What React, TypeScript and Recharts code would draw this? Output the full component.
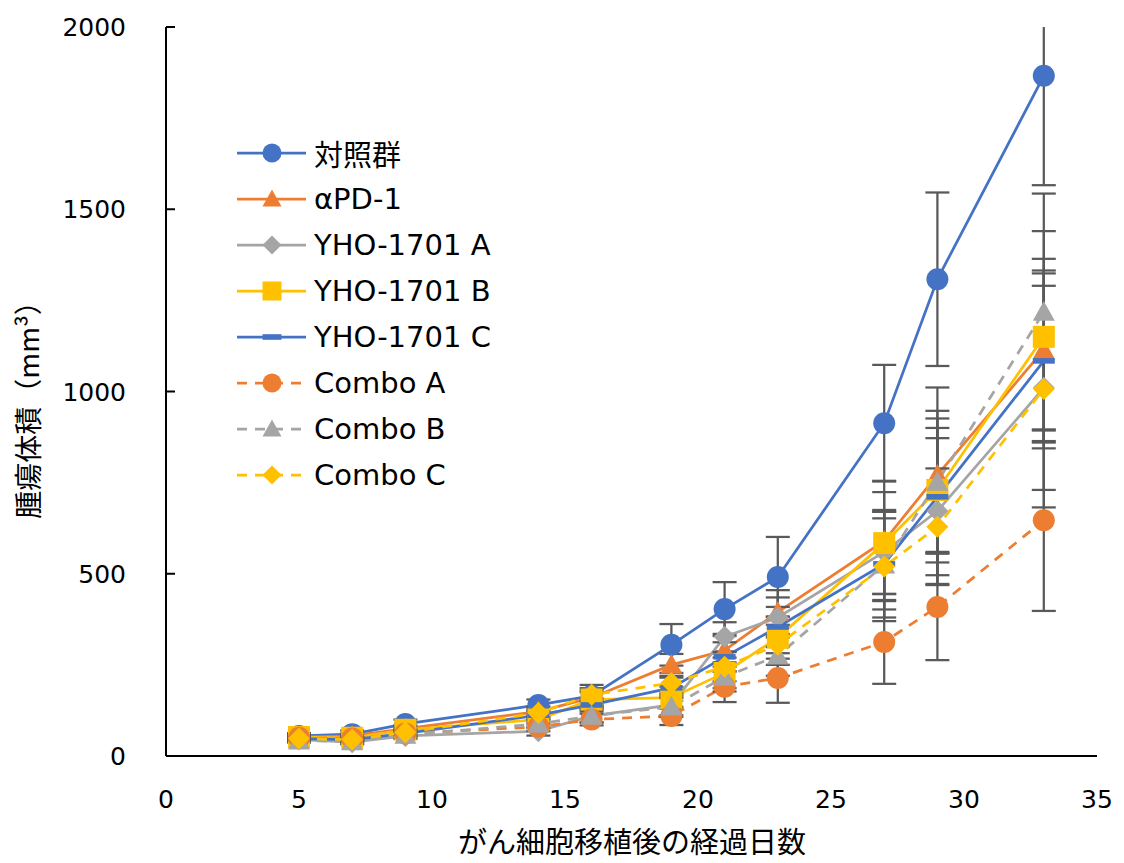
import React from 'react'
import { LineChart, Line, XAxis, YAxis, ErrorBar, Legend, Label } from 'recharts'

// days after tumor implantation
const days = [5, 7, 9, 14, 16, 19, 21, 23, 27, 29, 33]

// mean tumor volume (mm3) per group
const control = [55, 60, 88, 140, 165, 305, 403, 491, 913, 1308, 1866]
const aPD1 = [52, 55, 75, 122, 160, 250, 290, 395, 590, 771, 1114]
const yhoA = [45, 38, 55, 68, 110, 140, 327, 380, 560, 672, 1010]
const yhoB = [52, 50, 72, 100, 155, 160, 228, 325, 584, 730, 1150]
const yhoC = [48, 45, 62, 112, 140, 187, 272, 354, 527, 711, 1084]
const comboA = [50, 48, 62, 80, 100, 110, 190, 214, 313, 409, 647]
const comboB = [42, 40, 58, 88, 110, 135, 217, 275, 525, 752, 1218]
const comboC = [48, 45, 65, 118, 168, 200, 245, 305, 520, 629, 1007]

// error per group
const controlErr = [8, 10, 12, 15, 30, 57, 74, 110, 160, 238, 300]
const aPD1Err = [6, 7, 9, 14, 20, 30, 45, 60, 165, 240, 250]
const yhoAErr = [5, 6, 8, 12, 18, 28, 40, 55, 115, 200, 280]
const yhoBErr = [6, 7, 9, 13, 20, 30, 42, 58, 140, 170, 290]
const yhoCErr = [5, 6, 8, 12, 18, 28, 40, 55, 125, 215, 240]
const comboAErr = [5, 6, 8, 12, 16, 25, 42, 68, 115, 146, 249]
const comboBErr = [5, 6, 8, 12, 18, 28, 40, 55, 145, 195, 325]
const comboCErr = [5, 6, 8, 12, 18, 28, 40, 55, 150, 160, 325]

const xTicks = [0, 5, 10, 15, 20, 25, 30, 35]
const yTicks = [0, 500, 1000, 1500, 2000]

const BLUE = '#4472C4'
const ORANGE = '#ED7D31'
const GRAY = '#A5A5A5'
const YELLOW = '#FFC000'
const ERR = '#595959'

type Shape = 'circle' | 'triangle' | 'diamond' | 'square' | 'dash'

const SERIES: { key: string; name: string; color: string; shape: Shape; dashed: boolean; values: number[]; errs: number[] }[] = [
  { key: 'control', name: '対照群', color: BLUE, shape: 'circle', dashed: false, values: control, errs: controlErr },
  { key: 'aPD1', name: 'αPD-1', color: ORANGE, shape: 'triangle', dashed: false, values: aPD1, errs: aPD1Err },
  { key: 'yhoA', name: 'YHO-1701 A', color: GRAY, shape: 'diamond', dashed: false, values: yhoA, errs: yhoAErr },
  { key: 'yhoB', name: 'YHO-1701 B', color: YELLOW, shape: 'square', dashed: false, values: yhoB, errs: yhoBErr },
  { key: 'yhoC', name: 'YHO-1701 C', color: BLUE, shape: 'dash', dashed: false, values: yhoC, errs: yhoCErr },
  { key: 'comboA', name: 'Combo A', color: ORANGE, shape: 'circle', dashed: true, values: comboA, errs: comboAErr },
  { key: 'comboB', name: 'Combo B', color: GRAY, shape: 'triangle', dashed: true, values: comboB, errs: comboBErr },
  { key: 'comboC', name: 'Combo C', color: YELLOW, shape: 'diamond', dashed: true, values: comboC, errs: comboCErr },
]

const data = days.map((day, i) => {
  const row: Record<string, number> = { day }
  SERIES.forEach(s => {
    row[s.key] = s.values[i]
    row[s.key + 'Err'] = s.errs[i]
  })
  return row
})

const Marker = ({ shape, cx, cy, color, size = 11 }: { shape: Shape; cx: number; cy: number; color: string; size?: number }) => {
  const h = size
  if (shape === 'circle') return <circle cx={cx} cy={cy} r={h} fill={color} />
  if (shape === 'triangle')
    return <polygon points={`${cx},${cy - h} ${cx + h},${cy + h * 0.8} ${cx - h},${cy + h * 0.8}`} fill={color} />
  if (shape === 'diamond')
    return <polygon points={`${cx},${cy - h} ${cx + h},${cy} ${cx},${cy + h} ${cx - h},${cy}`} fill={color} />
  if (shape === 'square') return <rect x={cx - h} y={cy - h} width={h * 2} height={h * 2} fill={color} />
  return <rect x={cx - h} y={cy - 2.8} width={h * 2} height={5.6} fill={color} />
}

const YTick = ({ x, y, payload }: any) => (
  <g>
    <line x1={x + 40} x2={x + 49} y1={y} y2={y} stroke="#000" strokeWidth={2} />
    <text x={x} y={y} dy="0.36em" textAnchor="end" fontSize={25} fontFamily="DejaVu Sans" fill="#000">
      {payload.value}
    </text>
  </g>
)

const LegendBox = () => (
  <div style={{ fontFamily: '"DejaVu Sans", "Noto Sans CJK JP"', fontSize: 29, color: '#000' }}>
    {SERIES.map(s => (
      <div key={s.key} style={{ display: 'flex', alignItems: 'center', height: 46 }}>
        <svg width={70} height={46} style={{ flexShrink: 0 }}>
          <line
            x1={0}
            x2={69}
            y1={23}
            y2={23}
            stroke={s.color}
            strokeWidth={2.75}
            strokeDasharray={s.dashed ? '10 8' : undefined}
          />
          <Marker shape={s.shape} cx={35} cy={23} color={s.color} size={9.5} />
        </svg>
        <span style={{ marginLeft: 7, whiteSpace: 'nowrap' }}>{s.name}</span>
      </div>
    ))}
  </div>
)

export default function App() {
  return (
    <div style={{ position: 'absolute', left: 0, top: 0, background: '#fff' }}>
      <style>{`.recharts-errorBars, .recharts-errorBar { clip-path: url(#plotClip); }`}</style>
      <svg width={0} height={0} style={{ position: 'absolute' }}>
        <defs>
          <clipPath id="plotClip">
            <rect x={0} y={27} width={1124} height={836} />
          </clipPath>
        </defs>
      </svg>
      <LineChart width={1124} height={863} data={data} margin={{ top: 27, right: 27, bottom: 0, left: 66 }}>
        <XAxis
          dataKey="day"
          type="number"
          domain={[0, 35]}
          ticks={xTicks}
          tickLine={false}
          axisLine={{ stroke: '#000', strokeWidth: 2 }}
          tickMargin={28}
          height={107}
          tick={{ fontSize: 25, fontFamily: 'DejaVu Sans', fill: '#000' }}
        >
          <Label
            content={() => (
              <text x={632} y={853} textAnchor="middle" fontSize={29} fontFamily="Noto Sans CJK JP" fill="#000">
                がん細胞移植後の経過日数
              </text>
            )}
          />
        </XAxis>
        <YAxis
          type="number"
          domain={[0, 2000]}
          ticks={yTicks}
          allowDataOverflow
          width={100}
          tickSize={0}
          tickMargin={40}
          tickLine={false}
          axisLine={{ stroke: '#000', strokeWidth: 2 }}
          tick={<YTick />}
        >
          <Label
            content={() => (
              <text
                x={39}
                y={403}
                transform="rotate(-90 39 403)"
                textAnchor="middle"
                fontSize={28}
                fontFamily="Noto Sans CJK JP"
                fill="#000"
              >
                腫瘍体積（mm³）
              </text>
            )}
          />
        </YAxis>
        <Legend
          layout="vertical"
          align="center"
          verticalAlign="middle"
          content={<LegendBox />}
          wrapperStyle={{ left: 237, top: 130, width: 320 }}
        />
        {SERIES.map(s => (
          <Line
            key={s.key}
            dataKey={s.key}
            name={s.name}
            stroke={s.color}
            strokeWidth={2.75}
            strokeDasharray={s.dashed ? '10 8' : undefined}
            isAnimationActive={false}
            dot={(p: any) => <Marker key={`${s.key}-${p.index}`} shape={s.shape} cx={p.cx} cy={p.cy} color={s.color} />}
            activeDot={false}
          >
            <ErrorBar dataKey={s.key + 'Err'} direction="y" width={12} strokeWidth={2.25} stroke={ERR} isAnimationActive={false} />
          </Line>
        ))}
      </LineChart>
    </div>
  )
}
